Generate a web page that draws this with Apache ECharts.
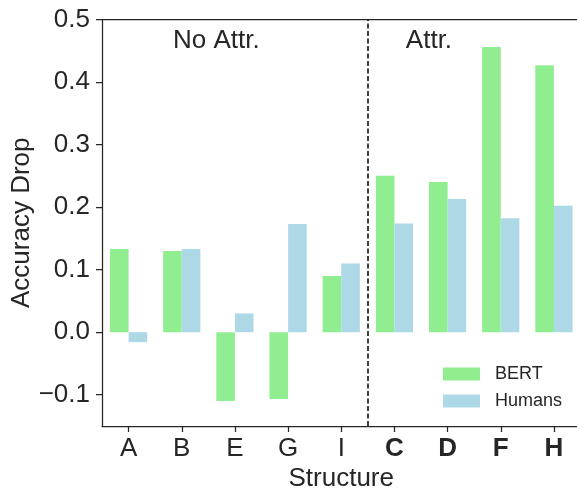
<!DOCTYPE html>
<html><head><meta charset="utf-8">
<script src="https://cdn.jsdelivr.net/npm/echarts@6/dist/echarts.min.js"></script>
<style>html,body{margin:0;padding:0;background:#fff}#c{width:577px;height:492px}</style>
</head><body><div id="c"></div>
<script>
const categories = ['A','B','E','G','I','C','D','F','H'];
const boldCategories = ['C','D','F','H'];
const bertValues = [0.133, 0.130, -0.110, -0.107, 0.090, 0.250, 0.240, 0.456, 0.427];
const humanValues = [-0.016, 0.133, 0.030, 0.173, 0.110, 0.174, 0.213, 0.182, 0.202];
const yTicks = [-0.1, 0.0, 0.1, 0.2, 0.3, 0.4, 0.5];
const groupLabels = ['No Attr.', 'Attr.'];

const FONT = 'Liberation Sans';
const TXT = '#262626';
const chart = echarts.init(document.getElementById('c'), null, {renderer:'canvas'});
chart.setOption({
  animation:false,
  textStyle:{fontFamily:FONT, color:TXT},
  grid:{left:102, right:-3.5, top:19.5, bottom:66, containLabel:false, outerBoundsMode:'none'},
  legend:{
    orient:'vertical', left:438, top:360, itemWidth:37, itemHeight:13, itemGap:9,
    icon:'rect',
    textStyle:{fontFamily:FONT, fontSize:18, color:TXT, padding:[0,0,0,10]},
    data:['BERT','Humans']
  },
  xAxis:[{
    type:'category', data:categories, position:'bottom',
    axisLine:{show:true, onZero:false, lineStyle:{color:TXT, width:1.25}},
    axisTick:{show:true, alignWithLabel:true, length:6, lineStyle:{color:TXT, width:1.25}},
    axisLabel:{interval:0, fontFamily:FONT, fontSize:26, color:TXT, margin:10,
      formatter:v => boldCategories.includes(v) ? '{b|'+v+'}' : v,
      rich:{b:{fontFamily:FONT, fontSize:26, fontWeight:'bold', color:TXT}}},
    name:'Structure', nameLocation:'middle', nameGap:40, nameMoveOverlap:false,
    nameTextStyle:{fontFamily:FONT, fontSize:26, color:TXT},
    splitLine:{show:false}
  },{
    type:'value', min:-0.5, max:categories.length-0.5, position:'top',
    axisLine:{show:true, onZero:false, lineStyle:{color:TXT, width:1.25}},
    axisTick:{show:false}, axisLabel:{show:false}, splitLine:{show:false}
  }],
  yAxis:{
    type:'value', min:-0.15, max:0.5,
    axisLine:{show:true, onZero:false, lineStyle:{color:TXT, width:1.25}},
    axisTick:{show:true, length:6, customValues:yTicks, lineStyle:{color:TXT, width:1.25}},
    axisLabel:{fontFamily:FONT, fontSize:26, color:TXT, margin:12, customValues:yTicks,
      formatter:v => (v < -1e-9 ? '\u2212' : '') + Math.abs(v).toFixed(1)},
    splitLine:{show:false},
    name:'Accuracy Drop', nameLocation:'middle', nameGap:67, nameRotate:90, nameMoveOverlap:false,
    nameTextStyle:{fontFamily:FONT, fontSize:26, color:TXT}
  },
  series:[
    {name:'BERT', type:'bar', data:bertValues, barWidth:'35%', barGap:'0%',
     itemStyle:{color:'#90EE90'}},
    {name:'Humans', type:'bar', data:humanValues, barWidth:'35%', barGap:'0%',
     itemStyle:{color:'#ADD8E6'}},
    {type:'scatter', xAxisIndex:1, yAxisIndex:0, symbolSize:0, silent:true,
     itemStyle:{opacity:1},
     data:[[1.65,0.466,groupLabels[0]],[5.65,0.466,groupLabels[1]]],
     label:{show:true, position:'inside', formatter:p=>p.data[2], fontFamily:FONT, fontSize:26, color:TXT, opacity:1},
     markLine:{silent:true, symbol:['none','none'], label:{show:false},
       lineStyle:{color:'#000', type:[5,2.5], width:1.5},
       data:[{xAxis:4.5}]}}
  ]
});
</script></body></html>
